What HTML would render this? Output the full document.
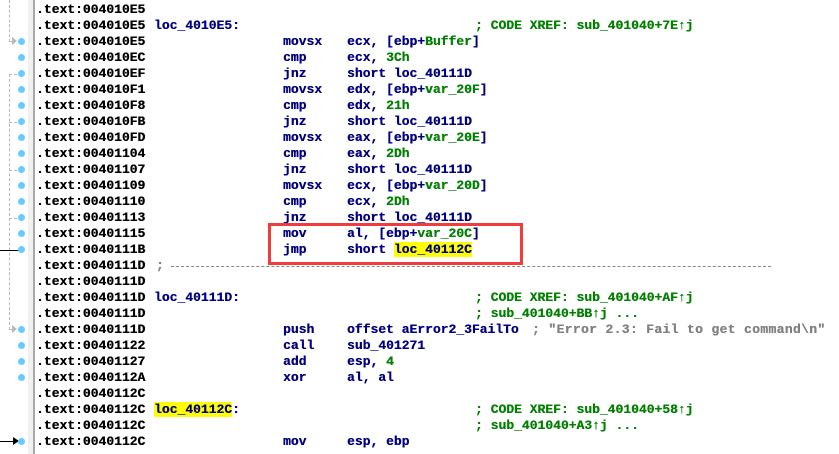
<!DOCTYPE html>
<html><head><meta charset="utf-8"><style>
html,body{margin:0;padding:0;background:#fff;}
body{width:839px;height:454px;position:relative;overflow:hidden;font-family:"Liberation Mono",monospace;font-weight:bold;font-size:13px;}
.l{position:absolute;height:16px;line-height:16px;white-space:pre;text-shadow:0.3px 0 0 currentColor;}
.a{color:#000;}
.n{color:#000080;}
.g{color:#008000;}
.c{color:#808080;}
.y{background:#ffff00;}
.dot{position:absolute;left:18px;width:7px;height:7px;border-radius:3.5px;background:#66ccff;}
.vd{position:absolute;width:0;border-left:1px dashed #b8b8b8;}
.hd{position:absolute;height:0;border-top:1px dashed #b8b8b8;}
</style></head><body>
<div style="position:absolute;left:28px;top:0;width:5px;height:454px;background:#f0f0f0"></div>
<div style="position:absolute;left:33px;top:0;width:2px;height:454px;background:#a8a8a8"></div>

<div class="vd" style="left:9px;top:0;height:42px"></div>
<div style="position:absolute;left:9px;top:41px;width:5px;border-top:1px solid #b8b8b8"></div>
<div style="position:absolute;left:12px;top:37px;width:0;height:0;border-left:5px solid #b8b8b8;border-top:4px solid transparent;border-bottom:4px solid transparent"></div>

<div class="vd" style="left:9px;top:74px;height:256px"></div>
<div class="hd" style="left:9px;top:74px;width:8px"></div>
<div class="hd" style="left:9px;top:122px;width:8px"></div>
<div class="hd" style="left:9px;top:170px;width:8px"></div>
<div class="hd" style="left:9px;top:218px;width:8px"></div>
<div style="position:absolute;left:9px;top:329px;width:5px;border-top:1px solid #b8b8b8"></div>
<div style="position:absolute;left:12px;top:325px;width:0;height:0;border-left:5px solid #b8b8b8;border-top:4px solid transparent;border-bottom:4px solid transparent"></div>

<div style="position:absolute;left:0;top:250px;width:24px;border-top:1px solid #000"></div>
<div style="position:absolute;left:0;top:441px;width:14px;border-top:1px solid #000"></div>
<div style="position:absolute;left:13px;top:437px;width:0;height:0;border-left:6px solid #000;border-top:4px solid transparent;border-bottom:4px solid transparent"></div>

<div class="dot" style="top:38px"></div>
<div class="dot" style="top:54px"></div>
<div class="dot" style="top:70px"></div>
<div class="dot" style="top:86px"></div>
<div class="dot" style="top:102px"></div>
<div class="dot" style="top:118px"></div>
<div class="dot" style="top:134px"></div>
<div class="dot" style="top:150px"></div>
<div class="dot" style="top:166px"></div>
<div class="dot" style="top:182px"></div>
<div class="dot" style="top:198px"></div>
<div class="dot" style="top:214px"></div>
<div class="dot" style="top:230px"></div>
<div class="dot" style="top:246px"></div>
<div class="dot" style="top:326px"></div>
<div class="dot" style="top:342px"></div>
<div class="dot" style="top:358px"></div>
<div class="dot" style="top:374px"></div>
<div class="dot" style="top:438px"></div>

<div class="l a" style="left:36px;top:2px">.text:004010E5</div>
<div class="l a" style="left:36px;top:18px">.text:004010E5</div>
<div class="l a" style="left:36px;top:34px">.text:004010E5</div>
<div class="l a" style="left:36px;top:50px">.text:004010EC</div>
<div class="l a" style="left:36px;top:66px">.text:004010EF</div>
<div class="l a" style="left:36px;top:82px">.text:004010F1</div>
<div class="l a" style="left:36px;top:98px">.text:004010F8</div>
<div class="l a" style="left:36px;top:114px">.text:004010FB</div>
<div class="l a" style="left:36px;top:130px">.text:004010FD</div>
<div class="l a" style="left:36px;top:146px">.text:00401104</div>
<div class="l a" style="left:36px;top:162px">.text:00401107</div>
<div class="l a" style="left:36px;top:178px">.text:00401109</div>
<div class="l a" style="left:36px;top:194px">.text:00401110</div>
<div class="l a" style="left:36px;top:210px">.text:00401113</div>
<div class="l a" style="left:36px;top:226px">.text:00401115</div>
<div class="l a" style="left:36px;top:242px">.text:0040111B</div>
<div class="l a" style="left:36px;top:258px">.text:0040111D</div>
<div class="l a" style="left:36px;top:274px">.text:0040111D</div>
<div class="l a" style="left:36px;top:290px">.text:0040111D</div>
<div class="l a" style="left:36px;top:306px">.text:0040111D</div>
<div class="l a" style="left:36px;top:322px">.text:0040111D</div>
<div class="l a" style="left:36px;top:338px">.text:00401122</div>
<div class="l a" style="left:36px;top:354px">.text:00401127</div>
<div class="l a" style="left:36px;top:370px">.text:0040112A</div>
<div class="l a" style="left:36px;top:386px">.text:0040112C</div>
<div class="l a" style="left:36px;top:402px">.text:0040112C</div>
<div class="l a" style="left:36px;top:418px">.text:0040112C</div>
<div class="l a" style="left:36px;top:434px">.text:0040112C</div>

<div class="l n" style="left:154px;top:18px">loc_4010E5:</div>
<div class="l c" style="left:156px;top:258px">;</div>
<div style="position:absolute;left:171px;top:266px;width:600px;border-top:1px dashed #888"></div>
<div class="l n" style="left:154px;top:290px">loc_40111D:</div>
<div class="l n" style="left:154px;top:402px"><span class="y">loc_40112C</span>:</div>

<div class="l n" style="left:283px;top:34px">movsx</div>
<div class="l n" style="left:283px;top:50px">cmp</div>
<div class="l n" style="left:283px;top:66px">jnz</div>
<div class="l n" style="left:283px;top:82px">movsx</div>
<div class="l n" style="left:283px;top:98px">cmp</div>
<div class="l n" style="left:283px;top:114px">jnz</div>
<div class="l n" style="left:283px;top:130px">movsx</div>
<div class="l n" style="left:283px;top:146px">cmp</div>
<div class="l n" style="left:283px;top:162px">jnz</div>
<div class="l n" style="left:283px;top:178px">movsx</div>
<div class="l n" style="left:283px;top:194px">cmp</div>
<div class="l n" style="left:283px;top:210px">jnz</div>
<div class="l n" style="left:283px;top:226px">mov</div>
<div class="l n" style="left:283px;top:242px">jmp</div>
<div class="l n" style="left:283px;top:322px">push</div>
<div class="l n" style="left:283px;top:338px">call</div>
<div class="l n" style="left:283px;top:354px">add</div>
<div class="l n" style="left:283px;top:370px">xor</div>
<div class="l n" style="left:283px;top:434px">mov</div>

<div class="l n" style="left:347px;top:34px">ecx, [ebp+<span class="g">Buffer</span>]</div>
<div class="l n" style="left:347px;top:50px">ecx, <span class="g">3Ch</span></div>
<div class="l n" style="left:347px;top:66px">short loc_40111D</div>
<div class="l n" style="left:347px;top:82px">edx, [ebp+<span class="g">var_20F</span>]</div>
<div class="l n" style="left:347px;top:98px">edx, <span class="g">21h</span></div>
<div class="l n" style="left:347px;top:114px">short loc_40111D</div>
<div class="l n" style="left:347px;top:130px">eax, [ebp+<span class="g">var_20E</span>]</div>
<div class="l n" style="left:347px;top:146px">eax, <span class="g">2Dh</span></div>
<div class="l n" style="left:347px;top:162px">short loc_40111D</div>
<div class="l n" style="left:347px;top:178px">ecx, [ebp+<span class="g">var_20D</span>]</div>
<div class="l n" style="left:347px;top:194px">ecx, <span class="g">2Dh</span></div>
<div class="l n" style="left:347px;top:210px">short loc_40111D</div>
<div class="l n" style="left:347px;top:226px">al, [ebp+<span class="g">var_20C</span>]</div>
<div class="l n" style="left:347px;top:242px">short <span class="y">loc_40112C</span></div>
<div class="l n" style="left:347px;top:322px">offset aError2_3FailTo</div>
<div class="l c" style="left:532px;top:322px;letter-spacing:0.35px">; "Error 2.3: Fail to get command\n"</div>
<div class="l n" style="left:347px;top:338px">sub_401271</div>
<div class="l n" style="left:347px;top:354px">esp, <span class="g">4</span></div>
<div class="l n" style="left:347px;top:370px">al, al</div>
<div class="l n" style="left:347px;top:434px">esp, ebp</div>

<div class="l g" style="left:475px;top:18px">; CODE XREF: sub_401040+7E↑j</div>
<div class="l g" style="left:475px;top:290px">; CODE XREF: sub_401040+AF↑j</div>
<div class="l g" style="left:475px;top:306px">; sub_401040+BB↑j ...</div>
<div class="l g" style="left:475px;top:402px">; CODE XREF: sub_401040+58↑j</div>
<div class="l g" style="left:475px;top:418px">; sub_401040+A3↑j ...</div>

<div style="position:absolute;left:268px;top:223px;width:249px;height:36px;border:3px solid #f03c3c"></div>
</body></html>
